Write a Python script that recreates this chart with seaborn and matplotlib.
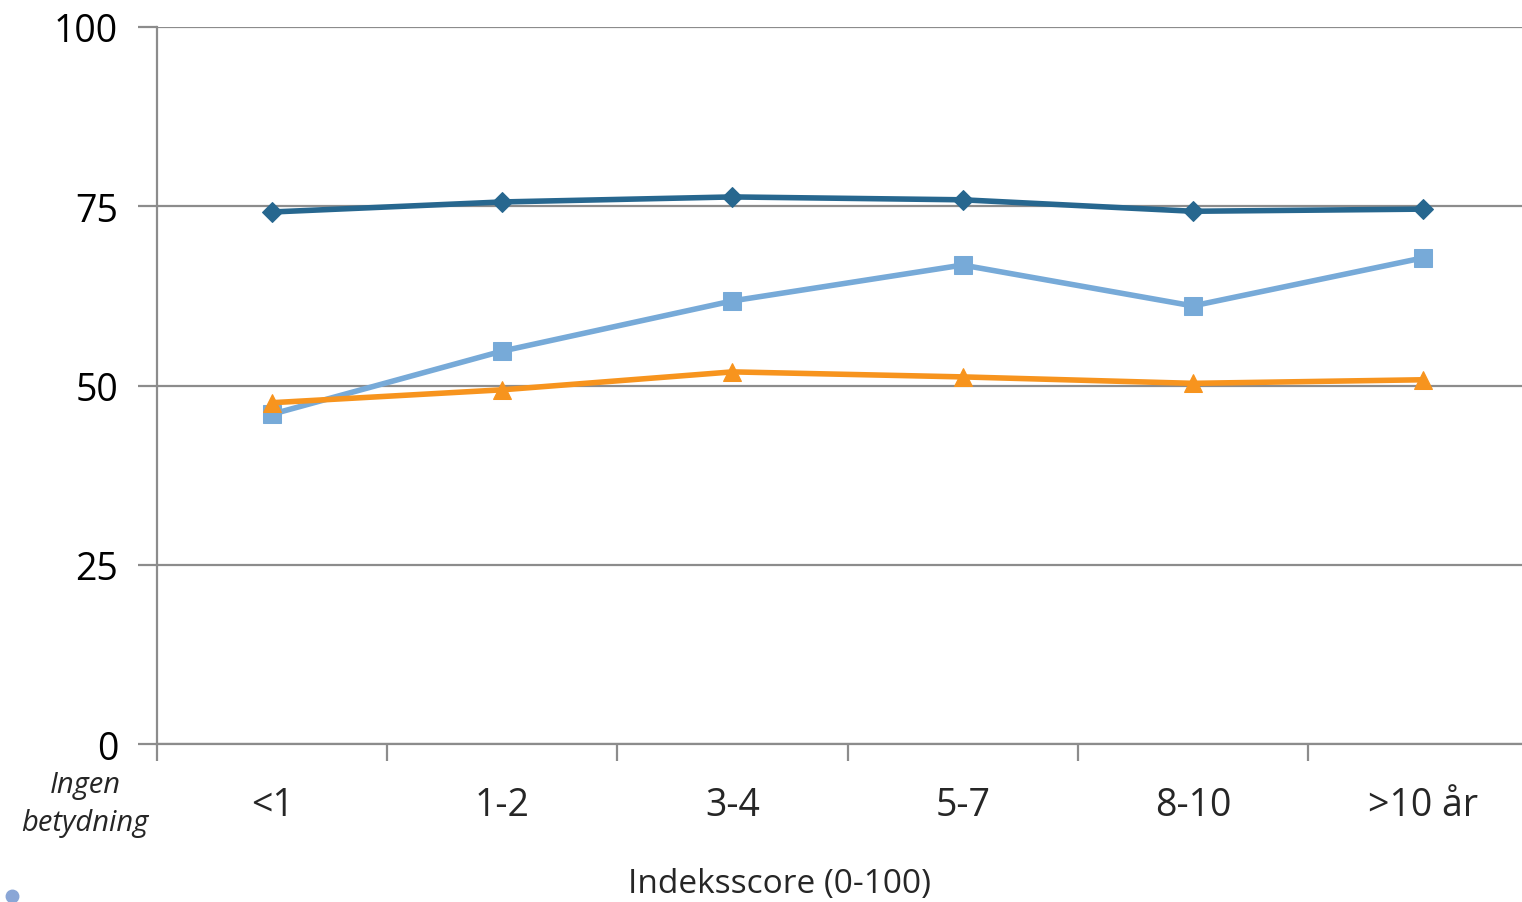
import matplotlib
matplotlib.use("Agg")
import matplotlib.pyplot as plt
import seaborn as sns
import pandas as pd
from matplotlib.lines import Line2D

categories = ["<1", "1-2", "3-4", "5-7", "8-10", ">10 år"]
series_dark = [74.2, 75.6, 76.3, 75.9, 74.3, 74.6]
series_light = [46.0, 54.8, 61.8, 66.8, 61.1, 67.8]
series_orange = [47.6, 49.4, 51.9, 51.2, 50.3, 50.8]
y_ticks = [0, 25, 50, 75, 100]

sns.set_theme(style="white")
plt.rcParams['font.family'] = ['Open Sans', 'DejaVu Sans']

rows = []
for name, vals in [("dark", series_dark), ("light", series_light), ("orange", series_orange)]:
    for i, v in enumerate(vals):
        rows.append({"series": name, "pos": i, "cat": categories[i], "value": v})
df = pd.DataFrame(rows)

fig = plt.figure(figsize=(15.22, 9.03), dpi=100)
ax = fig.add_axes([157/1522, 1-745/903, 1-157/1522, (745-28)/903])

styles = {
    "dark": dict(color="#27678f", marker="D", markersize=10),
    "light": dict(color="#77aad8", marker="s", markersize=13),
    "orange": dict(color="#f7941e", marker="^", markersize=13),
}
for name in ["dark", "light", "orange"]:
    sub = df[df.series == name]
    st = styles[name]
    sns.lineplot(data=sub, x="pos", y="value", ax=ax, color=st["color"],
                 marker=st["marker"], markersize=st["markersize"],
                 markeredgecolor=st["color"], linewidth=4, sort=False,
                 legend=False, zorder=3)

ax.set_xlim(-0.5, 5.43)
ax.set_ylim(0, 100)
ax.set_yticks(y_ticks)
ax.set_yticklabels([str(t) for t in y_ticks], fontsize=27)
ax.yaxis.grid(True, color="#8c8c8c", linewidth=1.6)
ax.set_axisbelow(True)

ax.set_xticks([i - 0.5 for i in range(len(categories))])
ax.set_xticklabels([])
ax.set_xticks(range(len(categories)), minor=True)
ax.set_xticklabels(categories, minor=True, fontsize=27)
ax.tick_params(axis="x", which="minor", bottom=True, length=0, pad=30)
ax.tick_params(axis="x", which="major", bottom=True, length=12, width=1.6, color="#8c8c8c", direction="out")
ax.tick_params(axis="y", left=True, length=14, width=1.6, color="#8c8c8c", direction="out", pad=14)
ax.tick_params(axis="both", labelcolor="black")

for s in ["top", "right"]:
    ax.spines[s].set_visible(False)
for s in ["left", "bottom"]:
    ax.spines[s].set_color("#8c8c8c")
    ax.spines[s].set_linewidth(1.6)

ax.set_xlabel("")
ax.set_ylabel("")

fig.text(85/1522, 1-786/903, "Ingen", ha="center", va="center", fontsize=21, style="italic")
fig.text(85/1522, 1-824/903, "betydning", ha="center", va="center", fontsize=21, style="italic")
fig.text(780/1522, 1-885/903, "Indeksscore (0-100)", ha="center", va="center", fontsize=24)

fig.add_artist(Line2D([12/1522], [1-897/903], marker="o", markersize=9,
                      color="#8aa6d6", linestyle="none", transform=fig.transFigure))

fig.savefig("out.png", dpi=100)
